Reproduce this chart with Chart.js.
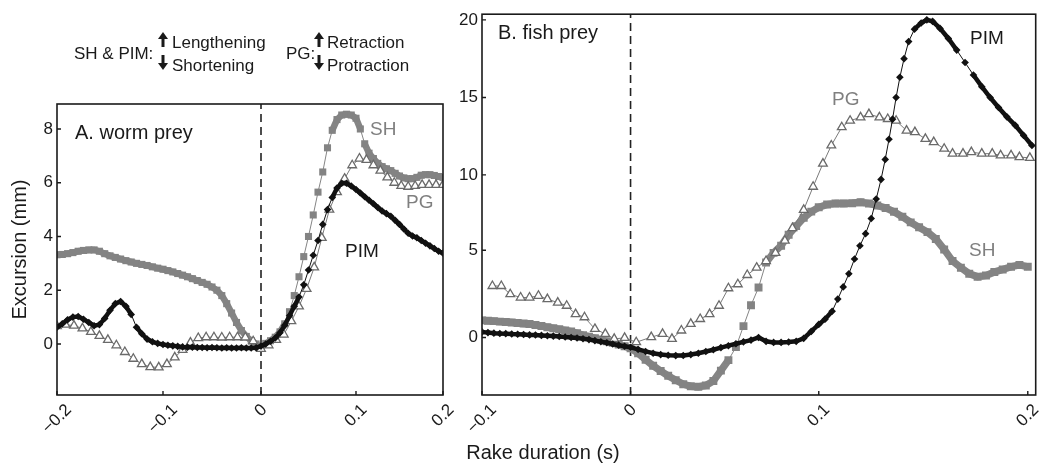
<!DOCTYPE html>
<html>
<head>
<meta charset="utf-8">
<script src="https://cdn.jsdelivr.net/npm/chart.js@4.4.1/dist/chart.umd.min.js"></script>
<style>
html, body { margin: 0; padding: 0; background: #fff; }
#wrap { position: relative; width: 1042px; height: 471px; overflow: hidden; font-family: "Liberation Sans", Arial, Helvetica, sans-serif; color: #1a1a1a; }
canvas { position: absolute; top: 0; }
.t { position: absolute; white-space: nowrap; line-height: 1; transform: translateY(-50%); }
.g { color: #7f7f7f; }
</style>
</head>
<body>
<div id="wrap">
  <canvas id="ca" width="470" height="471" style="left:0"></canvas>
  <canvas id="cb" width="590" height="471" style="left:452px"></canvas>

  <div class="t" style="left:74px;top:53px;font-size:17px">SH &amp; PIM:</div>
  <svg style="position:absolute;left:157px;top:32px" width="12" height="40">
    <polygon points="6,0 11,7 1,7" fill="#1a1a1a"/><rect x="4.5" y="6" width="3" height="9" fill="#1a1a1a"/>
    <rect x="4.5" y="23" width="3" height="9" fill="#1a1a1a"/><polygon points="1,31 11,31 6,38" fill="#1a1a1a"/>
  </svg>
  <div class="t" style="left:172px;top:42px;font-size:17px">Lengthening</div>
  <div class="t" style="left:172px;top:65px;font-size:17px">Shortening</div>
  <div class="t" style="left:286px;top:53px;font-size:17px">PG:</div>
  <svg style="position:absolute;left:313px;top:32px" width="12" height="40">
    <polygon points="6,0 11,7 1,7" fill="#1a1a1a"/><rect x="4.5" y="6" width="3" height="9" fill="#1a1a1a"/>
    <rect x="4.5" y="23" width="3" height="9" fill="#1a1a1a"/><polygon points="1,31 11,31 6,38" fill="#1a1a1a"/>
  </svg>
  <div class="t" style="left:327px;top:42px;font-size:17px">Retraction</div>
  <div class="t" style="left:327px;top:65px;font-size:17px">Protraction</div>

  <div class="t" style="left:75px;top:132px;font-size:20px">A. worm prey</div>
  <div class="t" style="left:498px;top:32px;font-size:20px">B. fish prey</div>

  <div class="t g" style="left:370px;top:128px;font-size:19px">SH</div>
  <div class="t g" style="left:406px;top:201px;font-size:19px">PG</div>
  <div class="t" style="left:345px;top:250px;font-size:19px">PIM</div>
  <div class="t" style="left:970px;top:37px;font-size:19px">PIM</div>
  <div class="t g" style="left:832px;top:98px;font-size:19px">PG</div>
  <div class="t g" style="left:969px;top:249px;font-size:19px">SH</div>

  <div class="t" style="left:543px;top:452px;font-size:20px;transform:translate(-50%,-50%)">Rake duration (s)</div>
</div>

<script>
// ---- panel A: worm prey ----
const T_A = [-0.2,-0.195,-0.19,-0.185,-0.18,-0.175,-0.17,-0.165,-0.16,-0.155,-0.15,-0.145,-0.14,-0.135,-0.13,-0.125,-0.12,-0.115,-0.11,-0.105,
  -0.1,-0.095,-0.09,-0.085,-0.08,-0.075,-0.07,-0.065,-0.06,-0.055,-0.05,-0.045,-0.04,-0.035,-0.03,-0.025,-0.02,-0.015,-0.01,-0.005,
  0,0.005,0.01,0.015,0.02,0.025,0.03,0.035,0.04,0.045,0.05,0.055,0.06,0.065,0.07,0.075,0.08,0.085,0.09,0.095,
  0.1,0.105,0.11,0.115,0.12,0.125,0.13,0.135,0.14,0.145,0.15,0.155,0.16,0.165,0.17,0.175,0.18,0.185,0.19,0.195,0.2];
const SH_A = [3.32,3.33,3.36,3.40,3.45,3.48,3.50,3.50,3.45,3.36, 3.28,3.22,3.16,3.10,3.05,3.00,2.96,2.92,2.87,2.82,
  2.78,2.73,2.68,2.62,2.56,2.50,2.43,2.36,2.29,2.22, 2.12,2.00,1.80,1.50,1.15,0.80,0.50,0.28,0.12,0.00,
  -0.12,0.02,0.12,0.25,0.45,0.75,1.20,1.80,2.50,3.25, 4.00,4.80,5.65,6.40,7.30,7.95,8.35,8.52,8.55,8.52,
  8.40,8.00,7.45,7.10,6.90,6.72,6.60,6.52,6.45,6.35, 6.25,6.18,6.15,6.15,6.20,6.28,6.30,6.30,6.27,6.23, 6.20];
const PIM_A = [0.62,0.75,0.90,1.00,1.02,0.92,0.80,0.68,0.72,0.95, 1.25,1.50,1.58,1.40,1.10,0.62,0.38,0.18,0.08,0.02,
  -0.02,-0.05,-0.07,-0.09,-0.11,-0.12,-0.12,-0.13,-0.13,-0.14, -0.13,-0.14,-0.15,-0.14,-0.15,-0.15,-0.14,-0.15,-0.15,-0.14,
  -0.08,0.00,0.10,0.22,0.42,0.70,1.05,1.40,1.75,2.20, 2.75,3.30,3.85,4.45,5.00,5.45,5.80,5.98,5.98,5.88,
  5.75,5.62,5.48,5.35,5.22,5.08,4.95,4.85,4.75,4.60, 4.45,4.28,4.12,4.02,3.95,3.85,3.75,3.65,3.55,3.45, 3.38];
const T_PG_A = [-0.2,-0.192,-0.184,-0.176,-0.168,-0.16,-0.152,-0.144,-0.136,-0.128,-0.12,-0.112,-0.104,-0.096,-0.088,-0.08,-0.072,
  -0.064,-0.056,-0.048,-0.04,-0.032,-0.024,-0.016,-0.008,0,0.008,0.016,0.024,0.032,0.04,0.048,0.056,0.064,0.072,0.08,
  0.088,0.096,0.104,0.112,0.12,0.128,0.136,0.144,0.152,0.16,0.168,0.176,0.184,0.192,0.2];
const PG_A = [0.66,0.72,0.68,0.58,0.45,0.30,0.15,-0.05,-0.30,-0.55, -0.75,-0.86,-0.87,-0.75,-0.50,-0.22,0.05,0.22,0.25,0.25,
  0.24,0.25,0.25,0.24,0.10,-0.18,-0.05,0.15,0.35,0.85, 1.40,2.05,2.85,3.95,5.00,5.65,6.15,6.65,6.90,6.85,
  6.65,6.45,6.20,6.00,5.88,5.85,5.88,5.92,5.92,5.92, 5.92];

// ---- panel B: fish prey ----
const T_B = [-0.1,-0.096,-0.092,-0.088,-0.084,-0.08,-0.076,-0.072,-0.068,-0.064,-0.06,-0.056,-0.052,-0.048,-0.044,-0.04,-0.036,
  -0.032,-0.028,-0.024,-0.02,-0.016,-0.012,-0.008,-0.004,0,0.004,0.008,0.012,0.016,0.02,0.024,0.028,0.032,0.036,0.04,0.044,
  0.048,0.052,0.056,0.06,0.064,0.068,0.072,0.076,0.08,0.084,0.088,0.092,0.096,0.1,0.104,0.108,0.112,0.116,0.12,0.124,0.128,
  0.132,0.136,0.14,0.144,0.148,0.152,0.156,0.16,0.164,0.168,0.172,0.176,0.18,0.184,0.188,0.192,0.196,0.2];
const SH_B = [0.98,0.96,0.94,0.91,0.89,0.86,0.83,0.80,0.77,0.72, 0.66,0.59,0.53,0.47,0.41,0.34,0.24,0.13,0.05,-0.04,
  -0.13,-0.22,-0.31,-0.40,-0.50,-0.62,-0.90,-1.28,-1.62,-1.92, -2.20,-2.45,-2.68,-2.80,-2.83,-2.75,-2.50,-1.90,-1.30,-0.55,
  0.65,1.85,2.86,4.30,4.85,5.30,6.03,6.60,7.15,7.56, 7.85,8.03,8.10,8.10,8.12,8.18,8.10,7.97,7.80,7.55,
  7.22,6.85,6.52,6.20,5.75,5.05,4.38,4.00,3.65,3.48, 3.55,3.75,3.90,4.05,4.15,4.05];
const T_PIM_B = [-0.1,-0.096,-0.092,-0.088,-0.084,-0.08,-0.076,-0.072,-0.068,-0.064, -0.06,-0.056,-0.052,-0.048,-0.044,-0.04,-0.036,-0.032,-0.028,-0.024,
  -0.02,-0.016,-0.012,-0.008,-0.004,0,0.004,0.008,0.012,0.016, 0.02,0.024,0.028,0.032,0.036,0.04,0.044,0.048,0.052,0.056,
  0.06,0.064,0.068,0.072,0.076,0.08,0.084,0.088,0.092,0.096, 0.1,0.103,0.1064,0.1091,0.1117,0.1144,0.1171,0.1197,0.1224,0.1251,
  0.1275,0.1298,0.1318,0.1336,0.1353,0.137,0.1388,0.1408,0.143,0.1458, 0.149,0.1517,0.1545,0.158,0.162,0.166,0.17,0.174,0.178,0.182,
  0.186,0.19,0.194,0.198,0.202];
const PIM_B = [0.32,0.28,0.25,0.23,0.22,0.20,0.19,0.17,0.15,0.14, 0.12,0.10,0.08,0.06,0.03,0.00,-0.03,-0.07,-0.12,-0.18,
  -0.24,-0.30,-0.37,-0.44,-0.50,-0.56,-0.68,-0.80,-0.90,-0.98, -1.02,-1.04,-1.03,-0.98,-0.90,-0.80,-0.70,-0.58,-0.47,-0.36,
  -0.25,-0.15,0.00,-0.22,-0.28,-0.28,-0.26,-0.22,-0.05,0.35, 0.75,1.05,1.50,2.20,2.90,3.65,4.50,5.30,6.10,7.10,
  8.40,9.70,11.00,12.30,13.60,15.00,16.30,17.50,18.60,19.40, 19.80,20.00,19.90,19.45,18.80,18.05,17.25,16.45,15.70,15.00,
  14.35,13.75,13.20,12.55,11.90];
const T_PG_B = [-0.093,-0.087,-0.081,-0.074,-0.068,-0.062,-0.056,-0.049,-0.043,-0.037, -0.031,-0.024,-0.017,-0.011,-0.004,0.003,0.011,0.017,0.022,0.027,
  0.032,0.037,0.042,0.047,0.052,0.057,0.062,0.067,0.072,0.077, 0.082,0.086,0.092,0.097,0.102,0.106,0.111,0.115,0.120,0.124,
  0.129,0.133,0.137,0.142,0.146,0.151,0.155,0.160,0.164,0.169, 0.173,0.178,0.183,0.187,0.192,0.196,0.201];
const PG_B = [2.95,2.95,2.48,2.29,2.29,2.39,2.20,2.00,1.82,1.34, 1.16,0.49,0.21,-0.08,-0.02,-0.27,0.02,0.21,-0.08,0.40,
  0.78,1.06,1.34,1.82,2.82,3.05,3.58,4.00,4.38,4.85, 5.63,6.47,7.68,9.21,10.73,11.90,13.08,13.50,13.72,13.93,
  13.72,13.61,13.50,12.86,12.76,12.33,12.12,11.69,11.37,11.37, 11.47,11.37,11.37,11.26,11.26,11.15,11.10];

// ---- axes ----
const X_TICKS_A = [-0.2, -0.1, 0, 0.1, 0.2];
const X_LABELS_A = ['\u22120.2', '\u22120.1', '0', '0.1', '0.2'];
const Y_TICKS_A = [0, 2, 4, 6, 8];
const X_TICKS_B = [-0.1, 0, 0.1, 0.2];
const X_LABELS_B = ['\u22120.1', '0', '0.1', '0.2'];
const Y_TICKS_B = [0, 5, 10, 15, 20];
const Y_MIN_A = -1.9, Y_MAX_A = 8.93;
const Y_MIN_B = -3.3, Y_MAX_B = 20.36;

// the printed axes are not evenly spaced, so the scales map values piecewise: [value, fraction of axis]
const KNOTS_XA = [[-0.2, 0], [-0.1, 0.2746], [0, 0.5285], [0.1, 0.7746], [0.2, 1]];
const KNOTS_XB = [[-0.1, 0], [0, 0.2683], [0.1, 0.6082], [0.2, 0.9857], [0.2038, 1]];
const KNOTS_YB = [[-3.3, 0], [0, 0.151], [5, 0.3802], [10, 0.5781], [15, 0.78125], [20, 0.9852], [20.36, 1]];

function warpDec(k, v) {
  let i = 1;
  while (i < k.length - 1 && v > k[i][0]) i++;
  const [v0, d0] = k[i - 1], [v1, d1] = k[i];
  return d0 + (v - v0) / (v1 - v0) * (d1 - d0);
}
function warpVal(k, d) {
  let i = 1;
  while (i < k.length - 1 && d > k[i][1]) i++;
  const [v0, d0] = k[i - 1], [v1, d1] = k[i];
  return v0 + (d - d0) / (d1 - d0) * (v1 - v0);
}
class WarpScale extends Chart.LinearScale {
  getPixelForValue(v) { return v == null ? NaN : this.getPixelForDecimal(warpDec(this.options.knots, v)); }
  getValueForPixel(p) { return warpVal(this.options.knots, this.getDecimalForPixel(p)); }
}
WarpScale.id = 'warp';
WarpScale.defaults = Chart.LinearScale.defaults;
Chart.register(WarpScale);

const FONT = '"Liberation Sans", Arial, sans-serif';
const INK = '#1a1a1a';

// dense samples on gentle stretches merge into a solid band; steep stretches keep a thin joining line
const band = (w) => ({ borderWidth: (c) => (Math.abs(c.p1.y - c.p0.y) > 12 ? 1 : w) });

const pts = (xs, ys) => xs.map((x, i) => ({ x, y: ys[i] }));
const sh = (xs, ys, r) => ({ data: pts(xs, ys), order: 2, borderColor: '#858585', borderWidth: 1, segment: band(r * 1.3), pointStyle: 'rect', pointRadius: r, pointBackgroundColor: '#838383', pointBorderWidth: 0, clip: 0 });
const pg = (xs, ys) => ({ data: pts(xs, ys), order: 1, borderColor: '#7a7a7a', borderWidth: 1, pointStyle: 'triangle', pointRadius: 5, pointBackgroundColor: '#fff', pointBorderColor: '#6a6a6a', pointBorderWidth: 1.3, clip: 0 });
const pim = (xs, ys) => ({ data: pts(xs, ys), order: 0, borderColor: '#111', borderWidth: 1, segment: band(4.5), pointStyle: 'rectRot', pointRadius: 3.8, pointBackgroundColor: '#111', pointBorderWidth: 0, clip: 0 });
const zero = (lo, hi) => ({ data: [{ x: 0, y: lo }, { x: 0, y: hi }], order: 3, borderColor: '#222', borderWidth: 1.6, borderDash: [8, 5], pointRadius: 0, clip: 0 });

// box, inward ticks and 45-degree tick labels centred under each tick
function frame(xTicks, xLabels) {
  return {
    id: 'frame',
    afterDraw(chart) {
      const { ctx, chartArea: a, scales: { x, y } } = chart;
      ctx.save();
      ctx.strokeStyle = INK; ctx.lineWidth = 1.6;
      ctx.strokeRect(a.left, a.top, a.right - a.left, a.bottom - a.top);
      ctx.lineWidth = 1.4; ctx.beginPath();
      xTicks.forEach((v) => { const p = x.getPixelForValue(v); ctx.moveTo(p, a.bottom); ctx.lineTo(p, a.bottom - 4); });
      y.ticks.forEach((t) => { const p = y.getPixelForValue(t.value); ctx.moveTo(a.left, p); ctx.lineTo(a.left + 4, p); });
      ctx.stroke();
      ctx.font = '17px ' + FONT; ctx.fillStyle = INK; ctx.textAlign = 'center'; ctx.textBaseline = 'middle';
      xTicks.forEach((v, i) => {
        const s = xLabels[i], w = ctx.measureText(s).width;
        ctx.save();
        ctx.translate(x.getPixelForValue(v), a.bottom + 8 + (w + 12) * 0.3536);
        ctx.rotate(-Math.PI / 4);
        ctx.fillText(s, 0, 0);
        ctx.restore();
      });
      ctx.restore();
    },
  };
}

function yAxis(ticks, min, max, width, extra) {
  return Object.assign({
    min, max,
    grid: { display: false, drawTicks: false }, border: { display: false },
    ticks: { color: INK, font: { family: FONT, size: 17 }, padding: 4, callback: (v) => String(v) },
    afterBuildTicks: (s) => { s.ticks = ticks.map((v) => ({ value: v })); },
    afterFit: (s) => { s.width = width; },
  }, extra);
}
function xAxis(knots, min, max) {
  return {
    type: 'warp', knots, min, max,
    grid: { display: false, drawTicks: false }, border: { display: false }, ticks: { display: false },
    afterFit: (s) => { s.height = 76; },
  };
}
const base = (pad) => ({
  responsive: false, animation: false, events: [],
  layout: { padding: pad },
  plugins: { legend: { display: false }, tooltip: { enabled: false } },
});

new Chart(document.getElementById('ca'), {
  type: 'line',
  data: { datasets: [pim(T_A, PIM_A), pg(T_PG_A, PG_A), sh(T_A, SH_A, 5), zero(Y_MIN_A, Y_MAX_A)] },
  options: Object.assign(base({ left: 0, right: 27, top: 104, bottom: 0 }), {
    scales: {
      x: xAxis(KNOTS_XA, -0.2, 0.2),
      y: yAxis(Y_TICKS_A, Y_MIN_A, Y_MAX_A, 57, {
        type: 'linear',
        title: { display: true, text: 'Excursion (mm)', color: INK, font: { family: FONT, size: 20 }, padding: { top: 8, bottom: 0 } },
      }),
    },
  }),
  plugins: [frame(X_TICKS_A, X_LABELS_A)],
});

new Chart(document.getElementById('cb'), {
  type: 'line',
  data: { datasets: [pim(T_PIM_B, PIM_B), pg(T_PG_B, PG_B), sh(T_B, SH_B, 5.6), zero(Y_MIN_B, Y_MAX_B)] },
  options: Object.assign(base({ left: 0, right: 1, top: 11, bottom: 0 }), {
    scales: {
      x: xAxis(KNOTS_XB, -0.1, 0.2038),
      y: yAxis(Y_TICKS_B, Y_MIN_B, Y_MAX_B, 30, { type: 'warp', knots: KNOTS_YB }),
    },
  }),
  plugins: [frame(X_TICKS_B, X_LABELS_B)],
});
</script>
</body>
</html>
